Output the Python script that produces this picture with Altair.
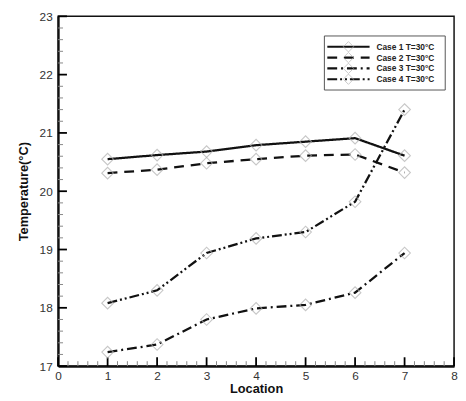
import altair as alt
import pandas as pd

# ---- data ----
locations = [1, 2, 3, 4, 5, 6, 7]
case1 = [20.55, 20.62, 20.68, 20.79, 20.85, 20.91, 20.61]
case2 = [20.31, 20.37, 20.48, 20.55, 20.61, 20.63, 20.32]
case3 = [17.24, 17.37, 17.80, 17.99, 18.05, 18.26, 18.94]
case4 = [18.08, 18.30, 18.94, 19.19, 19.30, 19.82, 21.40]
case_names = ["Case 1 T=30°C", "Case 2 T=30°C", "Case 3 T=30°C", "Case 4 T=30°C"]
dashes = [[1, 0], [10, 7], [10, 4, 2, 4], [10, 3, 2, 3, 2, 3]]

x_major = [0, 1, 2, 3, 4, 5, 6, 7, 8]
y_major = [17, 18, 19, 20, 21, 22, 23]
x_minor = [round(i * 0.2, 1) for i in range(41) if i % 5 != 0]
y_minor = [round(17 + i * 0.2, 1) for i in range(31) if i % 5 != 0]

rows = []
for name, vals in zip(case_names, [case1, case2, case3, case4]):
    for loc, v in zip(locations, vals):
        rows.append({"case": name, "loc": loc, "temp": v})
df = pd.DataFrame(rows)

W, H = 403, 356
FONT = "Liberation Sans"
xscale = alt.Scale(domain=[0, 8], nice=False, zero=False)
yscale = alt.Scale(domain=[17, 23], nice=False, zero=False)

x_axis = alt.Axis(values=x_major, ticks=False, labelPadding=5, titlePadding=1,
                  domainColor="#111", domainWidth=2.2, grid=False,
                  labelFontSize=12, labelColor="#333", labelFont=FONT,
                  titleFont=FONT, titleFontSize=13, titleFontWeight="bold",
                  titleColor="#111", labelFlush=False)
y_axis = alt.Axis(values=y_major, ticks=False, labelPadding=6, titlePadding=9,
                  domainColor="#111", domainWidth=2.2, grid=False,
                  labelFontSize=12, labelColor="#333", labelFont=FONT,
                  titleFont=FONT, titleFontSize=13, titleFontWeight="bold",
                  titleColor="#111", labelFlush=False)
XT, YT = "Location", "Temperature(°C)"

def X(field):
    return alt.X(field, scale=xscale, title=XT, axis=x_axis)

def Y(field):
    return alt.Y(field, scale=yscale, title=YT, axis=y_axis)

lines = alt.Chart(df).mark_line(color="#111", strokeWidth=2.3).encode(
    x=X("loc:Q"), y=Y("temp:Q"),
    strokeDash=alt.StrokeDash("case:N", scale=alt.Scale(domain=case_names, range=dashes),
                              legend=None),
    detail="case:N",
)

points = alt.Chart(df).mark_point(shape="diamond", size=140, color="#b0b0b0",
                                  strokeWidth=1.1, filled=False).encode(
    x=X("loc:Q"), y=Y("temp:Q"))

ymaj = alt.Chart(pd.DataFrame({"ym": y_major})).mark_rule(color="#000", strokeWidth=1.8).encode(
    y=Y("ym:Q"), x=alt.value(0), x2=alt.value(9))
ymin = alt.Chart(pd.DataFrame({"yn": y_minor})).mark_rule(color="#888", strokeWidth=1).encode(
    y=Y("yn:Q"), x=alt.value(0), x2=alt.value(5))
xmaj = alt.Chart(pd.DataFrame({"xm": x_major})).mark_rule(color="#000", strokeWidth=1.8).encode(
    x=X("xm:Q"), y=alt.value(H), y2=alt.value(H - 9))
xmin = alt.Chart(pd.DataFrame({"xn": x_minor})).mark_rule(color="#888", strokeWidth=1).encode(
    x=X("xn:Q"), y=alt.value(H), y2=alt.value(H - 5))

# ---- legend box ----
LX0, LX1, LY0, LY1 = 271, 394, 20, 75
legend_layers = [
    alt.Chart(pd.DataFrame({"a": [0]})).mark_rect(fill="white", stroke="#555", strokeWidth=1).encode(
        x=alt.value(LX0), x2=alt.value(LX1), y=alt.value(LY0), y2=alt.value(LY1))
]
for i, (name, dash) in enumerate(zip(case_names, dashes)):
    yy = 31 + i * 11
    base = alt.Chart(pd.DataFrame({"a": [0]}))
    legend_layers.append(base.mark_rule(color="#111", strokeWidth=2.2, strokeDash=dash).encode(
        x=alt.value(274), x2=alt.value(317), y=alt.value(yy)))
    legend_layers.append(base.mark_point(shape="diamond", size=110, color="#b5b5b5",
                                         strokeWidth=1, filled=False).encode(
        x=alt.value(295.5), y=alt.value(yy)))
    legend_layers.append(base.mark_text(text=name, align="left", baseline="middle",
                                        font=FONT, fontSize=8.5, fontWeight="bold",
                                        color="#222").encode(
        x=alt.value(324), y=alt.value(yy)))

chart = alt.layer(lines, ymin, xmin, ymaj, xmaj, points, *legend_layers).properties(
    width=W, height=H,
    autosize=alt.AutoSizeParams(type="none"),
    padding={"left": 51, "top": 5, "right": 4, "bottom": 30},
).configure(background="white").configure_view(stroke="#111", strokeWidth=1.5)

chart.save("out.html", embed_options={"renderer": "svg", "actions": False})
